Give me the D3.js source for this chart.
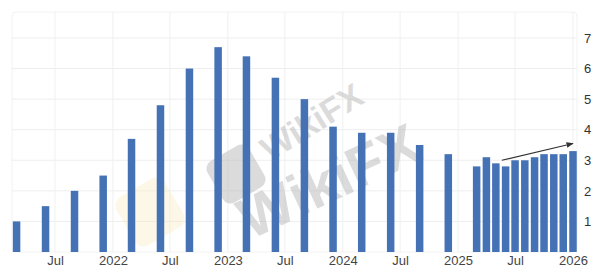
<!DOCTYPE html>
<html>
<head>
<meta charset="utf-8">
<script src="https://cdn.jsdelivr.net/npm/d3@7"></script>
<style>
  html, body { margin: 0; padding: 0; background: #fff; }
  #chart { width: 601px; height: 275px; }
</style>
</head>
<body>
<div id="chart"></div>
<script>
// bar dates (quarterly history, then monthly) and values
const dates = [
  "2021-03", "2021-06", "2021-09", "2021-12",
  "2022-03", "2022-06", "2022-09", "2022-12",
  "2023-03", "2023-06", "2023-09", "2023-12",
  "2024-03", "2024-06", "2024-09", "2024-12",
  "2025-03", "2025-04", "2025-05", "2025-06", "2025-07", "2025-08",
  "2025-09", "2025-10", "2025-11", "2025-12", "2026-01"
];
const values = [
  1.0, 1.5, 2.0, 2.5,
  3.7, 4.8, 6.0, 6.7,
  6.4, 5.7, 5.0, 4.1,
  3.9, 3.9, 3.5, 3.2,
  2.8, 3.1, 2.9, 2.8, 3.0, 3.0,
  3.1, 3.2, 3.2, 3.2, 3.3
];
const yTicks = [1, 2, 3, 4, 5, 6, 7];
const xTickLabels = ["Jul", "2022", "Jul", "2023", "Jul", "2024", "Jul", "2025", "Jul", "2026"];
const xTickDates = ["2021-07", "2022-01", "2022-07", "2023-01", "2023-07", "2024-01", "2024-07", "2025-01", "2025-07", "2026-01"];
// trend arrow: start / end
const arrowDates = ["2025-05-20", "2026-01-01"];
const arrowValues = [3.0, 3.55];

const width = 601;
const height = 275;
const plotLeft = 12;
const plotRight = 577;
const plotTop = 12;
const plotBottom = 252;

const parse = d3.timeParse("%Y-%m");
const parseDay = d3.timeParse("%Y-%m-%d");
const data = dates.map((d, i) => ({ date: parse(d), value: values[i] }));

const x = d3.scaleTime()
  .domain([new Date(2021, 0, 1), new Date(2026, 0, 1)])
  .range([-2, 573]);
const y = d3.scaleLinear()
  .domain([0, 7.85])
  .range([plotBottom, plotTop]);

const svg = d3.create("svg").attr("width", width).attr("height", height)
  .style("font-family", "'Liberation Sans', Arial, sans-serif");

// plot frame
svg.append("rect")
  .attr("x", plotLeft).attr("y", plotTop)
  .attr("width", plotRight - plotLeft).attr("height", plotBottom - plotTop)
  .attr("rx", 4)
  .attr("fill", "none").attr("stroke", "#f2f2f2");

// gridlines
svg.append("g")
  .selectAll("line")
  .data(yTicks)
  .join("line")
  .attr("x1", plotLeft).attr("x2", plotRight)
  .attr("y1", d => y(d)).attr("y2", d => y(d))
  .attr("stroke", "#eeeeee");

svg.append("g")
  .selectAll("line")
  .data(xTickDates.map(parse))
  .join("line")
  .attr("x1", d => x(d)).attr("x2", d => x(d))
  .attr("y1", plotTop).attr("y2", plotBottom)
  .attr("stroke", "#f0f0f0");

// watermark
const wm = svg.append("g").attr("fill", "#b8b8b8").attr("opacity", 0.5)
  .attr("font-weight", "bold");
wm.append("rect")
  .attr("transform", "translate(236,174) rotate(-30)")
  .attr("x", -24).attr("y", -24).attr("width", 48).attr("height", 48)
  .attr("rx", 9);
svg.append("rect")
  .attr("transform", "translate(150,212) rotate(-30)")
  .attr("x", -28).attr("y", -28).attr("width", 56).attr("height", 56)
  .attr("rx", 10)
  .attr("fill", "#f7e9b8").attr("opacity", 0.35);
wm.append("text")
  .attr("transform", "translate(270,162) rotate(-32)")
  .attr("font-size", 34)
  .text("WikiFX");
wm.append("text")
  .attr("transform", "translate(250,240) rotate(-25)")
  .attr("font-size", 58)
  .text("WikiFX");

// bars
const barW = 7.5;
svg.append("g")
  .attr("fill", "#4472b4")
  .selectAll("rect")
  .data(data)
  .join("rect")
  .attr("x", d => x(d.date) - barW / 2)
  .attr("y", d => y(d.value))
  .attr("width", barW)
  .attr("height", d => y(0) - y(d.value));

// arrow
svg.append("defs").append("marker")
  .attr("id", "arrowhead")
  .attr("viewBox", "0 0 10 10")
  .attr("refX", 9).attr("refY", 5)
  .attr("markerWidth", 6).attr("markerHeight", 6)
  .attr("orient", "auto")
  .append("path")
  .attr("d", "M0,1 L10,5 L0,9 z")
  .attr("fill", "#333");

svg.append("line")
  .attr("x1", x(parseDay(arrowDates[0]))).attr("y1", y(arrowValues[0]))
  .attr("x2", x(parseDay(arrowDates[1]))).attr("y2", y(arrowValues[1]))
  .attr("stroke", "#333").attr("stroke-width", 1.2)
  .attr("marker-end", "url(#arrowhead)");

// y axis on the right
svg.append("g")
  .attr("transform", `translate(${plotRight + 1},0)`)
  .call(d3.axisRight(y).tickValues(yTicks).tickSize(0).tickPadding(6))
  .call(g => g.select(".domain").remove())
  .call(g => g.selectAll("text")
    .attr("font-size", 13)
    .attr("fill", "#333")
    .attr("font-family", "'Liberation Sans', Arial, sans-serif"));

// x axis labels
svg.append("g")
  .attr("transform", `translate(0,${plotBottom})`)
  .call(d3.axisBottom(x)
    .tickValues(xTickDates.map(parse))
    .tickFormat((d, i) => xTickLabels[i])
    .tickSize(0).tickPadding(4))
  .call(g => g.select(".domain").remove())
  .call(g => g.selectAll("text")
    .attr("font-size", 13)
    .attr("fill", "#444")
    .attr("font-family", "'Liberation Sans', Arial, sans-serif"));

document.getElementById("chart").appendChild(svg.node());
</script>
</body>
</html>
